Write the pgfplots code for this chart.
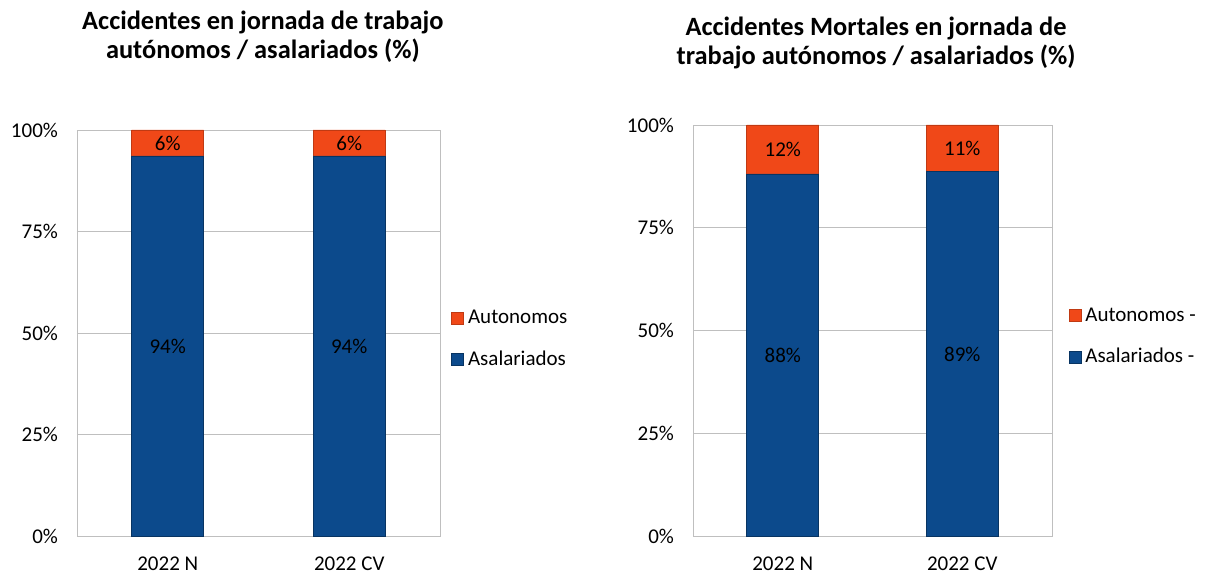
\documentclass[border=0pt]{standalone}
\usepackage{fontspec}
\setmainfont{Carlito}
\usepackage{pgfplots}
\pgfplotsset{compat=1.18}

\definecolor{azul}{RGB}{12,74,140}
\definecolor{naranja}{RGB}{240,72,24}
\definecolor{rejilla}{RGB}{191,191,191}

\pgfplotsset{
  marco/.style={
    scale only axis,
    ymin=0, ymax=100, xmin=-0.5, xmax=1.5,
  },
  panel/.style={
    marco,
    ybar stacked,
    bar width=36pt,
    xtick={0,1}, xticklabels={2022 N, 2022 CV},
    ytick={0,25,50,75,100},
    yticklabel={\pgfmathprintnumber{\tick}\%},
    ymajorgrids, grid style={rejilla},
    axis line style={rejilla},
    major tick length=0pt,
    tick label style={font=\fontsize{10.5}{12}\selectfont},
    yticklabel style={xshift=-6pt},
    xticklabel style={yshift=-7pt},
    /pgf/number format/assume math mode=true,
    title style={font=\bfseries\fontsize{13.2}{14.5}\selectfont, align=center, anchor=center},
    legend style={draw=none, fill=none, font=\fontsize{10.5}{12}\selectfont,
      anchor=west, row sep=8pt, inner xsep=0pt},
    legend cell align=left,
    reverse legend,
    legend image code/.code={\fill[##1] (0pt,-3pt) rectangle (6pt,3pt);},
  },
  etiquetas/.style={
    marco, hide axis,
    nodes near coords, point meta=explicit symbolic,
    every node near coord/.append style={anchor=center,
      font=\fontsize{10.5}{12}\selectfont, text=black},
  },
}

\begin{document}
\begin{tikzpicture}
\useasboundingbox (0,0) rectangle (603.5pt,287pt);

% izquierda: todos los accidentes
\begin{axis}[panel,
    at={(38.5pt,19pt)}, anchor=south west,
    width=181.5pt, height=203pt,
    title={Accidentes en jornada de trabajo\\autónomos / asalariados (\%)},
    title style={at={(0.512,1.20)}},
    legend style={at={(1.03,0.485)}},
]
\addplot[fill=azul, draw=azul!70!black] coordinates {(0,93.6) (1,93.6)};
\addplot[fill=naranja, draw=naranja!80!black] coordinates {(0,6.4) (1,6.4)};
\legend{Asalariados, Autonomos}
\end{axis}
\begin{axis}[etiquetas,
    at={(38.5pt,19pt)}, anchor=south west,
    width=181.5pt, height=203pt]
\addplot[draw=none] coordinates {(0,46.8)[94\%] (1,46.8)[94\%] (0,96.8)[6\%] (1,96.8)[6\%]};
\end{axis}

% derecha: accidentes mortales
\begin{axis}[panel,
    at={(346.5pt,19pt)}, anchor=south west,
    width=179.5pt, height=205.5pt,
    title={Accidentes Mortales en jornada de\\trabajo autónomos / asalariados (\%)},
    title style={at={(0.51,1.17)}},
    legend style={at={(1.045,0.485)}},
]
\addplot[fill=azul, draw=azul!70!black] coordinates {(0,88.1) (1,88.6)};
\addplot[fill=naranja, draw=naranja!80!black] coordinates {(0,11.9) (1,11.4)};
\legend{Asalariados -, Autonomos -}
\end{axis}
\begin{axis}[etiquetas,
    at={(346.5pt,19pt)}, anchor=south west,
    width=179.5pt, height=205.5pt]
\addplot[draw=none] coordinates {(0,44.05)[88\%] (1,44.3)[89\%] (0,94.05)[12\%] (1,94.3)[11\%]};
\end{axis}
\end{tikzpicture}
\end{document}
